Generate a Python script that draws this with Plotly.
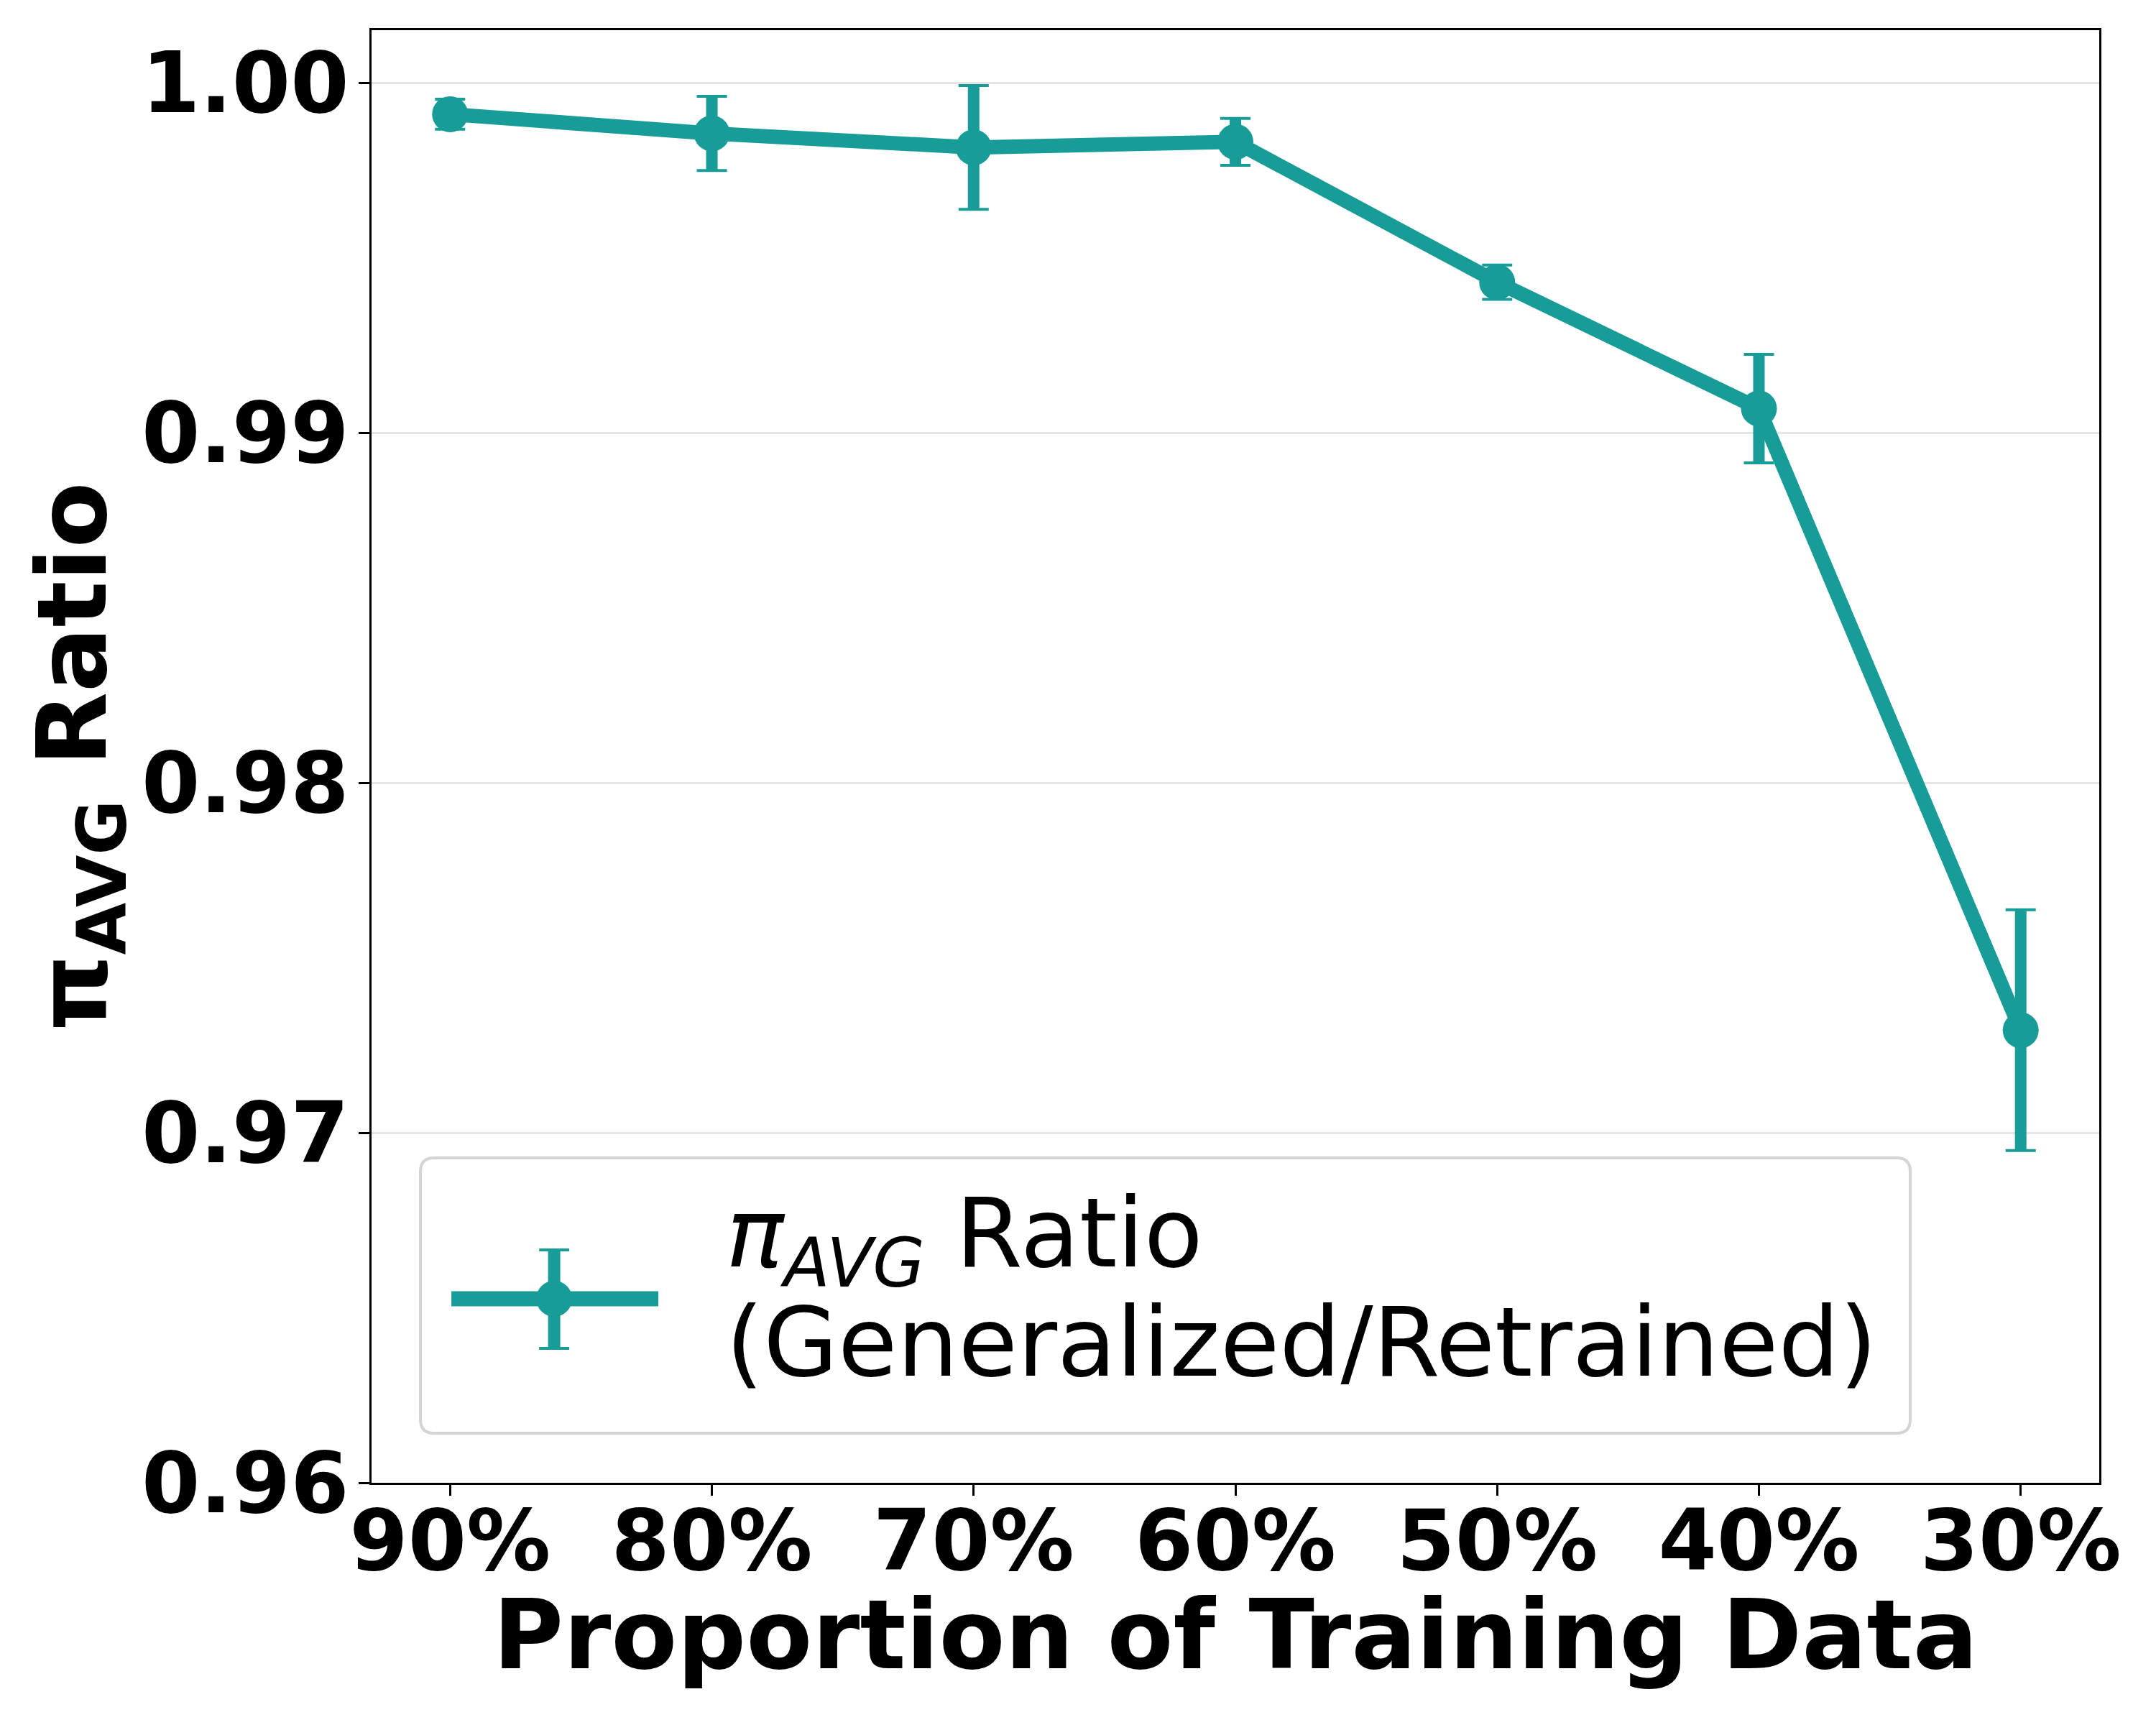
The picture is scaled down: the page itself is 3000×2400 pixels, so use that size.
import plotly.graph_objects as go

# data
proportions = ["90%", "80%", "70%", "60%", "50%", "40%", "30%"]
ratio_mean = [0.99910, 0.99855, 0.99815, 0.99831, 0.99430, 0.99069, 0.97293]
ratio_err = [0.00043, 0.00106, 0.00177, 0.00067, 0.00049, 0.00155, 0.00344]
y_ticks = [0.96, 0.97, 0.98, 0.99, 1.00]
y_tick_labels = ["0.96", "0.97", "0.98", "0.99", "1.00"]

TEAL = "#189c98"
FONT = "DejaVu Sans"

fig = go.Figure()

# thin caps (plotly uses one thickness for bar and cap, so caps come from a separate trace)
fig.add_trace(go.Scatter(
    x=proportions, y=ratio_mean, mode="markers",
    marker=dict(color=TEAL, size=1, opacity=0),
    error_y=dict(type="data", array=ratio_err, visible=True,
                 color=TEAL, thickness=4, width=21),
    showlegend=False, hoverinfo="skip",
))
fig.add_trace(go.Scatter(
    x=proportions,
    y=ratio_mean,
    mode="lines+markers",
    line=dict(color=TEAL, width=20),
    marker=dict(color=TEAL, size=50),
    error_y=dict(type="data", array=ratio_err, visible=True,
                 color=TEAL, thickness=16, width=0),
    showlegend=False,
))

# hand drawn legend box (matplotlib style) in paper coords
x0, x1, y0, y1 = 0.0283, 0.8906, 0.0341, 0.2237
rx, ry = 0.0079, 0.0094
box_path = (f"M {x0+rx},{y0} L {x1-rx},{y0} Q {x1},{y0} {x1},{y0+ry} "
            f"L {x1},{y1-ry} Q {x1},{y1} {x1-rx},{y1} "
            f"L {x0+rx},{y1} Q {x0},{y1} {x0},{y1-ry} "
            f"L {x0},{y0+ry} Q {x0},{y0} {x0+rx},{y0} Z")
fig.add_shape(type="path", path=box_path, xref="paper", yref="paper",
              fillcolor="rgba(255,255,255,0.8)", line=dict(color="#d4d4d4", width=4))

# legend sample: line, error bar, caps, marker
lx0, lx1, ly, mx = 0.0462, 0.1660, 0.1267, 0.1057
eb_lo, eb_hi = 0.0925, 0.1603
fig.add_shape(type="line", xref="paper", yref="paper", x0=lx0, x1=lx1, y0=ly, y1=ly,
              line=dict(color=TEAL, width=21))
fig.add_shape(type="line", xref="paper", yref="paper", x0=mx, x1=mx, y0=eb_lo, y1=eb_hi,
              line=dict(color=TEAL, width=17))
for cy in (eb_lo, eb_hi):
    fig.add_shape(type="line", xref="paper", yref="paper", x0=mx - 0.0087, x1=mx + 0.0087,
                  y0=cy, y1=cy, line=dict(color=TEAL, width=4))
fig.add_shape(type="circle", xref="paper", yref="paper",
              x0=mx - 0.0104, x1=mx + 0.0104, y0=ly - 0.01237, y1=ly + 0.01237,
              fillcolor=TEAL, line=dict(color=TEAL, width=0))

fig.add_annotation(
    xref="paper", yref="paper", x=0.2042, y=0.1672, xanchor="left", yanchor="middle",
    text="<i>π<sub>AVG</sub></i> Ratio",
    showarrow=False, align="left",
    font=dict(family=FONT, size=134, color="black"),
)
fig.add_annotation(
    xref="paper", yref="paper", x=0.2042, y=0.0965, xanchor="left", yanchor="middle",
    text="(Generalized/Retrained)",
    showarrow=False, align="left",
    font=dict(family=FONT, size=134, color="black"),
)

# x axis title placed as annotation (axis title standoff would not move it up enough)
fig.add_annotation(
    xref="paper", yref="paper", x=0.5, y=-0.1049, xanchor="center", yanchor="middle",
    text="<b>Proportion of Training Data</b>",
    showarrow=False,
    font=dict(family=FONT, size=134, color="black"),
)

fig.update_xaxes(
    type="category",
    range=[-0.3, 6.3],
    showline=True, linecolor="black", linewidth=3, mirror=True,
    ticks="outside", ticklen=15, tickwidth=3, tickcolor="black",
    tickfont=dict(family=FONT, size=117, color="black", weight="bold"),
    ticklabelstandoff=-37,
    showgrid=False,
)
fig.update_yaxes(
    range=[0.96, 1.0015],
    tickvals=y_ticks, ticktext=y_tick_labels,
    showline=True, linecolor="black", linewidth=3, mirror=True,
    ticks="outside", ticklen=15, tickwidth=3, tickcolor="black",
    tickfont=dict(family=FONT, size=117, color="black", weight="bold"),
    ticklabelstandoff=-10,
    showgrid=True, gridcolor="#e6e6e6", gridwidth=3,
    zeroline=False,
    title=dict(text="π<sub>AVG</sub> Ratio", standoff=0,
               font=dict(family=FONT, size=134, color="black", weight="bold")),
)

# page body has an 8px margin, so pull the plot area back by that much
fig.update_layout(
    width=3000, height=2400,
    margin=dict(l=509, r=87, t=34, b=345),
    plot_bgcolor="white", paper_bgcolor="white",
    font=dict(family=FONT, color="black"),
)

fig.write_html("out.html")
